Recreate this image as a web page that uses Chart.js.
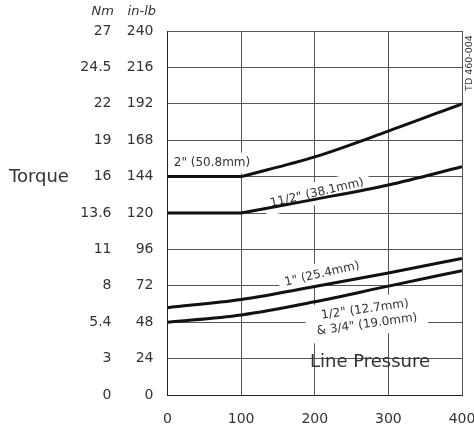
<!DOCTYPE html>
<html>
<head>
<meta charset="utf-8">
<script src="https://cdn.jsdelivr.net/npm/chart.js@4"></script>
<style>
  html, body { margin: 0; padding: 0; background: #fff; }
  #wrap { width: 474px; height: 434px; position: relative; }
</style>
</head>
<body>
<div id="wrap"><canvas id="torqueChart"></canvas></div>
<script>
// 라인 압력별 토크 곡선 (in-lb 기준, 왼쪽에 Nm 환산 눈금)
const pressure = [0, 100, 200, 300, 400];
const torque2in = [144, 144, 157, 174, 192];
const torque15in = [120, 120, 129, 138.5, 150.5];
const torque1in = [57.6, 63, 71.5, 80.5, 90];
const torqueHalf = [48, 52.8, 61.5, 71.8, 82];

const inlbTicks = [0, 24, 48, 72, 96, 120, 144, 168, 192, 216, 240];
const nmTicks = ["0", "3", "5.4", "8", "11", "13.6", "16", "19", "22", "24.5", "27"];
const xTicks = [0, 100, 200, 300, 400];

const FONT = "'DejaVu Sans', sans-serif";
const INK = "#333";

// 곡선 옆 라벨 (픽셀 위치, 흰 배경 박스)
const curveLabels = [
  { lines: ['2" (50.8mm)'], x: 212, y: 163, rot: 0, size: 12, padX: 3, padY: 3 },
  { lines: ['11/2" (38.1mm)'], x: 317, y: 193, rot: -13, size: 12, padX: 6, padY: 4 },
  { lines: ['1" (25.4mm)'], x: 322, y: 274, rot: -13, size: 12, padX: 6, padY: 4 },
  { lines: ['1/2" (12.7mm)', '& 3/4" (19.0mm)'], x: 366, y: 317, rot: -8, size: 12, padX: 10, padY: 4 },
];

// 평탄 구간(0~100)과 상승 구간을 나눠 꺾이는 점을 살린다
function lines(values, breakAt) {
  const pts = pressure.map((p, i) => ({ x: p, y: values[i] }));
  const parts = breakAt ? [pts.slice(0, breakAt + 1), pts.slice(breakAt)] : [pts];
  return parts.map((data) => ({
    data: data,
    borderColor: "#111",
    borderWidth: 3,
    pointRadius: 0,
    cubicInterpolationMode: "monotone",
    fill: false,
  }));
}

const notes = {
  id: "notes",
  beforeDatasetsDraw(chart) {
    const ctx = chart.ctx;
    curveLabels.forEach((l) => {
      ctx.save();
      ctx.translate(l.x, l.y);
      ctx.rotate(l.rot * Math.PI / 180);
      ctx.font = l.size + "px " + FONT;
      const lh = l.size * 1.25;
      const w = Math.max(...l.lines.map((t) => ctx.measureText(t).width));
      const h = lh * l.lines.length;
      ctx.fillStyle = "#fff";
      ctx.fillRect(-w / 2 - l.padX, -h / 2 - l.padY, w + 2 * l.padX, h + 2 * l.padY);
      ctx.fillStyle = INK;
      ctx.textAlign = "center";
      ctx.textBaseline = "middle";
      l.lines.forEach((t, i) => {
        ctx.fillText(t, 0, -h / 2 + lh * (i + 0.5));
      });
      ctx.restore();
    });
  },
  afterDraw(chart) {
    const ctx = chart.ctx;
    ctx.save();
    ctx.fillStyle = INK;
    ctx.textBaseline = "middle";
    ctx.font = "18px " + FONT;
    ctx.textAlign = "left";
    ctx.fillText("Torque", 9, 177);
    ctx.font = "italic 13px " + FONT;
    ctx.textAlign = "right";
    ctx.fillText("Nm", 114, 12);
    ctx.fillText("in-lb", 156, 12);
    ctx.font = "18px " + FONT;
    ctx.textAlign = "center";
    ctx.fillText("Line Pressure", 370, 362);
    ctx.translate(470, 63);
    ctx.rotate(-Math.PI / 2);
    ctx.font = "9.5px " + FONT;
    ctx.fillText("TD 460-004", 0, 0);
    ctx.restore();
  },
};

new Chart(document.getElementById("torqueChart"), {
  type: "line",
  data: {
    datasets: [
      ...lines(torque2in, 1),
      ...lines(torque15in, 1),
      ...lines(torque1in),
      ...lines(torqueHalf),
    ],
  },
  options: {
    responsive: true,
    maintainAspectRatio: false,
    animation: false,
    layout: { padding: { top: 31, right: 12, bottom: 0, left: 0 } },
    plugins: { legend: { display: false }, tooltip: { enabled: false } },
    scales: {
      x: {
        type: "linear",
        min: 0,
        max: 400,
        afterBuildTicks: (s) => { s.ticks = xTicks.map((v) => ({ value: v })); },
        ticks: { padding: 16, color: INK, font: { family: FONT, size: 14 } },
        grid: { color: "#555", drawTicks: false },
        border: { color: "#222" },
        afterFit: (s) => { s.height = 39; s.paddingLeft = 0; s.paddingRight = 0; },
      },
      y: {
        position: "left",
        weight: 0,
        min: 0,
        max: 240,
        afterBuildTicks: (s) => { s.ticks = inlbTicks.map((v) => ({ value: v })); },
        ticks: { padding: 14, color: INK, font: { family: FONT, size: 14 } },
        grid: { color: "#555", drawTicks: false },
        border: { color: "#222" },
        afterFit: (s) => { s.width = 55; },
      },
      nm: {
        position: "left",
        weight: 1,
        min: 0,
        max: 240,
        afterBuildTicks: (s) => { s.ticks = inlbTicks.map((v) => ({ value: v })); },
        ticks: {
          padding: 1,
          color: INK,
          font: { family: FONT, size: 14 },
          callback: (v, i) => nmTicks[i],
        },
        grid: { display: false, drawTicks: false },
        border: { display: false },
        afterFit: (s) => { s.width = 112.5; },
      },
    },
  },
  plugins: [notes],
});
</script>
</body>
</html>
